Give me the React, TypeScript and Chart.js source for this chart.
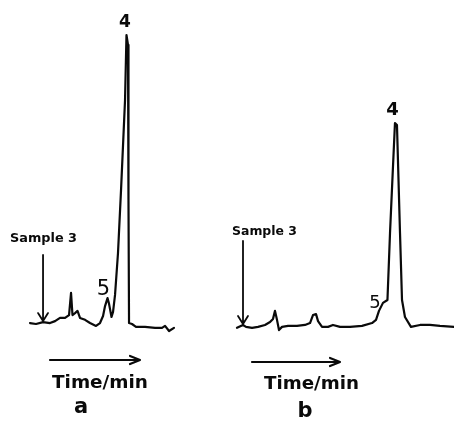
import React, { useEffect, useRef } from "react";
import { Chart, registerables } from "chart.js";

Chart.register(...registerables);

// ---- Data (time in min, detector response in arbitrary units) ----
const aTime = [0, 0.75, 1.63, 2.5, 3.13, 3.75, 4.38, 4.88, 5.13, 5.31, 5.63, 5.94, 6.25, 6.88, 7.5, 8.25, 8.75, 9.13, 9.38, 9.69, 9.88, 10.19, 10.38, 10.63, 11.0, 11.38, 11.88, 12.06, 12.25, 12.31, 12.38, 12.75, 13.25, 14.38, 15.63, 16.5, 16.88, 17.38, 18.0];
const aSignal = [5.3, 5.0, 5.6, 5.3, 5.9, 6.9, 6.9, 7.8, 14.7, 7.8, 8.4, 9.1, 6.9, 6.3, 5.3, 4.4, 5.3, 7.5, 10.6, 13.1, 11.3, 7.2, 8.8, 14.1, 27.2, 46.9, 75.0, 95.3, 92.2, 43.8, 5.3, 5.0, 4.1, 4.1, 3.8, 3.8, 4.4, 2.8, 3.8];

const bTime = [0, 0.75, 1.13, 1.88, 2.63, 3.5, 4.13, 4.5, 4.75, 5.0, 5.25, 5.63, 6.38, 7.5, 8.5, 9.13, 9.5, 9.88, 10.13, 10.63, 11.38, 12.0, 12.88, 14.13, 15.63, 16.88, 17.38, 17.75, 18.25, 18.81, 19.13, 19.5, 19.75, 20.0, 20.38, 20.63, 21.0, 21.75, 22.88, 24.13, 25.38, 27.13];
const bSignal = [3.8, 4.7, 4.1, 3.8, 4.1, 4.7, 5.6, 6.6, 9.1, 6.3, 3.1, 4.1, 4.4, 4.4, 4.7, 5.3, 7.8, 8.1, 5.9, 4.1, 4.1, 4.7, 4.1, 4.1, 4.4, 5.3, 6.3, 9.1, 11.6, 12.5, 33.4, 54.1, 67.8, 67.2, 33.4, 12.5, 7.2, 4.1, 4.7, 4.7, 4.4, 4.1];

const peakNames = ["4", "5"];
const aPeakTimes = [12.06, 9.69];
const bPeakTimes = [19.75, 18.81];
const aInjection = 1.63;
const bInjection = 0.75;
const sampleLabel = "Sample 3";
const axisLabel = "Time/min";
const panelLetters = ["a", "b"];

// ---- Panel layout / style (not data) ----
const W = 227;
const H = 421;
const INK = "#0a0a0a";

type Panel = {
  time: number[];
  signal: number[];
  peakTimes: number[];
  injection: number;
  letter: string;
  padding: { left: number; right: number; top: number; bottom: number };
  xMax: number;
  peakOffsets: { dx: number; base: number; size: number; weight: string }[];
  injTop: number;
  sample: { left: number; base: number; width: number };
  timeArrow: { x1: number; x2: number; y: number };
  timeText: { cx: number; base: number; width: number };
  letterPos: { cx: number; base: number };
};

const panels: Panel[] = [
  {
    time: aTime,
    signal: aSignal,
    peakTimes: aPeakTimes,
    injection: aInjection,
    letter: panelLetters[0],
    padding: { left: 30, right: W - 174, top: 20, bottom: H - 340 },
    xMax: 18,
    peakOffsets: [
      { dx: -1.5, base: 27, size: 17, weight: "bold" },
      { dx: -4, base: 295, size: 21, weight: "normal" },
    ],
    injTop: 255,
    sample: { left: 10, base: 242, width: 67 },
    timeArrow: { x1: 50, x2: 140, y: 360 },
    timeText: { cx: 100, base: 388, width: 96 },
    letterPos: { cx: 81, base: 413 },
  },
  {
    time: bTime,
    signal: bSignal,
    peakTimes: bPeakTimes,
    injection: bInjection,
    letter: panelLetters[1],
    padding: { left: 10, right: 0, top: 20, bottom: H - 340 },
    xMax: 27.13,
    peakOffsets: [
      { dx: -2.5, base: 115, size: 18, weight: "bold" },
      { dx: -12.5, base: 308, size: 18, weight: "normal" },
    ],
    injTop: 241,
    sample: { left: 5, base: 235, width: 65 },
    timeArrow: { x1: 25, x2: 113, y: 362 },
    timeText: { cx: 84.5, base: 389, width: 95 },
    letterPos: { cx: 78, base: 417 },
  },
];

function fitText(ctx: CanvasRenderingContext2D, text: string, x: number, base: number, font: string, width: number, align: "left" | "center") {
  ctx.save();
  ctx.font = font;
  const w = ctx.measureText(text).width;
  const s = width / w;
  ctx.translate(x, base);
  ctx.scale(s, 1);
  ctx.textAlign = align;
  ctx.textBaseline = "alphabetic";
  ctx.fillText(text, 0, 0);
  ctx.restore();
}

const marksPlugin = {
  id: "marks",
  afterDraw(chart: any, _args: any, opts: any) {
    const p: Panel = opts.panel;
    if (!p) return;
    const ctx: CanvasRenderingContext2D = chart.ctx;
    const xs = chart.scales.x;
    const ys = chart.scales.y;
    ctx.save();
    ctx.fillStyle = INK;
    ctx.strokeStyle = INK;
    ctx.lineCap = "round";
    ctx.lineJoin = "round";

    // peak labels
    p.peakTimes.forEach((t, i) => {
      const o = p.peakOffsets[i];
      const px = xs.getPixelForValue(t) + o.dx;
      ctx.font = `${o.weight} ${o.size}px "DejaVu Sans"`;
      ctx.textAlign = "center";
      ctx.textBaseline = "alphabetic";
      ctx.fillText(peakNames[i], px, o.base);
    });

    // injection arrow
    const ix = xs.getPixelForValue(p.injection);
    const idx = p.time.indexOf(p.injection);
    const tipY = ys.getPixelForValue(idx >= 0 ? p.signal[idx] : 5) - 1;
    ctx.lineWidth = 1.8;
    ctx.beginPath();
    ctx.moveTo(ix, p.injTop);
    ctx.lineTo(ix, tipY);
    ctx.moveTo(ix - 5, tipY - 8);
    ctx.lineTo(ix, tipY);
    ctx.lineTo(ix + 5, tipY - 8);
    ctx.stroke();

    fitText(ctx, sampleLabel, p.sample.left, p.sample.base, `bold 12px "DejaVu Sans"`, p.sample.width, "left");

    // time arrow
    const ta = p.timeArrow;
    ctx.lineWidth = 2.2;
    ctx.beginPath();
    ctx.moveTo(ta.x1, ta.y);
    ctx.lineTo(ta.x2, ta.y);
    ctx.moveTo(ta.x2 - 10, ta.y - 4);
    ctx.lineTo(ta.x2, ta.y);
    ctx.lineTo(ta.x2 - 10, ta.y + 4);
    ctx.stroke();

    fitText(ctx, axisLabel, p.timeText.cx, p.timeText.base, `bold 18px "DejaVu Sans"`, p.timeText.width, "center");

    ctx.font = `bold 21px "DejaVu Sans"`;
    ctx.textAlign = "center";
    ctx.textBaseline = "alphabetic";
    ctx.fillText(p.letter, p.letterPos.cx, p.letterPos.base);
    ctx.restore();
  },
};

function PanelChart({ panel }: { panel: Panel }) {
  const ref = useRef<HTMLCanvasElement | null>(null);
  useEffect(() => {
    if (!ref.current) return;
    const chart = new Chart(ref.current, {
      type: "scatter",
      data: {
        datasets: [
          {
            data: panel.time.map((t, i) => ({ x: t, y: panel.signal[i] })),
            showLine: true,
            borderColor: INK,
            borderWidth: 2.2,
            pointRadius: 0,
            tension: 0,
            borderJoinStyle: "round",
            borderCapStyle: "round",
            clip: false,
          } as any,
        ],
      },
      options: {
        animation: false,
        responsive: false,
        maintainAspectRatio: false,
        devicePixelRatio: 1,
        layout: { padding: panel.padding },
        scales: {
          x: { type: "linear", display: false, min: 0, max: panel.xMax },
          y: { type: "linear", display: false, min: 0, max: 100 },
        },
        plugins: {
          legend: { display: false },
          tooltip: { enabled: false },
          marks: { panel },
        } as any,
      },
      plugins: [marksPlugin],
    });
    return () => chart.destroy();
  }, [panel]);
  return <canvas ref={ref} width={W} height={H} style={{ display: "block", width: W, height: H }} />;
}

export default function App() {
  return (
    <div style={{ position: "absolute", left: 0, top: 0, width: 454, height: 421, display: "flex", background: "#fff" }}>
      {panels.map((p) => (
        <PanelChart key={p.letter} panel={p} />
      ))}
    </div>
  );
}
